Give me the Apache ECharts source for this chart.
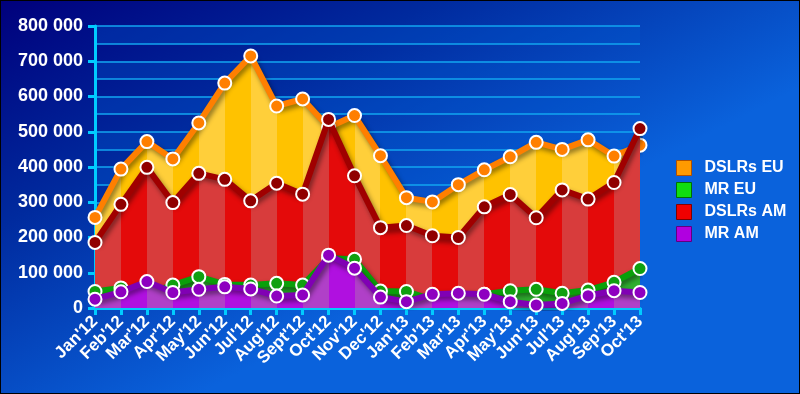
<!DOCTYPE html>
<html>
<head>
<meta charset="utf-8">
<script src="https://cdn.jsdelivr.net/npm/echarts@6/dist/echarts.min.js"></script>
<style>
html,body{margin:0;padding:0;background:#000;}
#wrap{width:800px;height:394px;box-sizing:border-box;border:1px solid #000;}
#chart{width:798px;height:392px;}
</style>
</head>
<body>
<div id="wrap"><div id="chart"></div></div>
<script>
var months = ["Jan'12","Feb'12","Mar'12","Apr'12","May'12","Jun'12","Jul'12","Aug'12","Sept'12","Oct'12","Nov'12","Dec'12","Jan'13","Feb'13","Mar'13","Apr'13","May'13","Jun'13","Jul'13","Aug'13","Sep'13","Oct'13"];
var dslrsEU = [257000,394000,472000,423000,525000,638000,715000,573000,593000,513000,546000,432000,313000,301000,350000,392000,429000,470000,450000,477000,431000,462000];
var dslrsAM = [186000,294000,399000,299000,382000,365000,304000,354000,323000,535000,375000,228000,234000,205000,200000,287000,322000,256000,335000,309000,356000,509000];
var mrEU = [47000,57000,40000,65000,89000,67000,65000,70000,65000,141000,138000,48000,47000,23000,32000,39000,49000,53000,42000,51000,73000,112000];
var mrAM = [25000,46000,75000,44000,53000,60000,54000,34000,37000,150000,113000,31000,18000,39000,42000,39000,18000,8500,13000,35000,49000,44000];
var yMin = 0, yMax = 800000, yStep = 100000;

function stripes(c1, c2) {
  var n = months.length - 1, stops = [];
  for (var i = 0; i < n; i++) {
    var c = (i % 2 === 0) ? c1 : c2;
    stops.push({offset: i / n, color: c});
    stops.push({offset: (i + 1) / n, color: c});
  }
  return new echarts.graphic.LinearGradient(0, 0, 1, 0, stops);
}
function fmt(v) {
  return String(v).replace(/\B(?=(\d{3})+(?!\d))/g, ' ');
}
function mk(name, data, lineColor, markColor, fill, z) {
  return {
    name: name, type: 'line', data: data, z: z,
    symbol: 'circle', symbolSize: 13,
    itemStyle: {color: markColor, borderColor: '#fff', borderWidth: 2},
    lineStyle: {color: lineColor, width: 6, shadowColor: 'rgba(0,0,0,0.45)', shadowBlur: 5, shadowOffsetX: 2, shadowOffsetY: 3},
    areaStyle: {color: fill, opacity: 1},
    emphasis: {disabled: true}
  };
}
var chart = echarts.init(document.getElementById('chart'), null, {renderer: 'canvas'});
var axisCol = '#00ccff';
chart.setOption({
  animation: false,
  backgroundColor: new echarts.graphic.LinearGradient(0, 0, 0.25, 1, [
    {offset: 0, color: '#00007c'},
    {offset: 0.45, color: '#002a9e'},
    {offset: 1, color: '#0a62dc'}
  ]),
  grid: {left: 94, right: 159, top: 25, bottom: 85},
  legend: {
    orient: 'vertical', left: 670, top: 154, itemWidth: 15, itemHeight: 15, itemGap: 6,
    icon: 'rect',
    textStyle: {color: '#fff', fontFamily: 'Liberation Sans', fontWeight: 'bold', fontSize: 16, lineHeight: 16, padding: [0, 0, 0, 8]},
    data: [
      {name: 'DSLRs EU', itemStyle: {color: '#ff9a00', borderColor: '#b05000', borderWidth: 1}},
      {name: 'MR EU', itemStyle: {color: '#10dd10', borderColor: '#007000', borderWidth: 1}},
      {name: 'DSLRs AM', itemStyle: {color: '#f00000', borderColor: '#800000', borderWidth: 1}},
      {name: 'MR AM', itemStyle: {color: '#b000e0', borderColor: '#600080', borderWidth: 1}}
    ]
  },
  xAxis: {
    type: 'category', data: months, boundaryGap: false,
    axisLine: {lineStyle: {color: axisCol, width: 3}},
    axisTick: {show: true, interval: 0, length: 7, lineStyle: {color: axisCol, width: 3}},
    axisLabel: {interval: 0, rotate: 45, margin: 11, color: '#fff', fontFamily: 'Liberation Sans', fontWeight: 'bold', fontSize: 17},
    splitLine: {show: false}
  },
  yAxis: [{
    type: 'value', min: yMin, max: yMax, interval: yStep,
    axisLine: {show: true, lineStyle: {color: axisCol, width: 3}},
    axisTick: {show: true, length: 7, lineStyle: {color: axisCol, width: 3}},
    axisLabel: {margin: 12, color: '#fff', fontFamily: 'Liberation Sans', fontWeight: 'bold', fontSize: 18, formatter: fmt},
    splitLine: {show: false}
  }, {
    type: 'value', min: yMin, max: yMax, interval: yStep / 2, position: 'left',
    axisLine: {show: false}, axisTick: {show: false}, axisLabel: {show: false},
    splitLine: {show: true, lineStyle: {color: '#12a6f0', width: 1.5}},
    splitArea: {show: true, areaStyle: {color: ['rgba(0,0,0,0)', 'rgba(0,90,210,0.35)']}}
  }],
  series: [
    mk('DSLRs EU', dslrsEU, '#ff7f00', '#ff7f00', stripes('#ffcf3a', '#ffc200'), 2),
    mk('DSLRs AM', dslrsAM, '#a00000', '#900000', stripes('#d83c3c', '#e40a0a'), 3),
    mk('MR EU', mrEU, '#0aa00a', '#10a010', stripes('#30b030', '#20a820'), 4),
    mk('MR AM', mrAM, '#8000b4', '#8e00c0', stripes('#b040c8', '#b010e0'), 5)
  ]
});
</script>
</body>
</html>
